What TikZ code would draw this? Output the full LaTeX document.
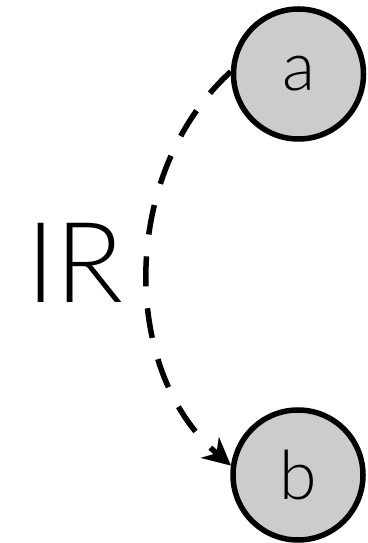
\documentclass[tikz,border=0pt]{standalone}
\usepackage{fontspec}
\setmainfont{Lato}[UprightFont=* Light]
\usetikzlibrary{arrows.meta}
\definecolor{nodegray}{HTML}{CCCCCC}
\tikzset{
  statenode/.style={circle, draw=black, line width=5.5pt, fill=nodegray, minimum size=130pt, inner sep=0pt, font=\fontsize{68}{72}\selectfont},
  irlink/.style={line width=5.5pt, dash pattern=on 30pt off 22pt, -{Stealth[length=28pt,width=28pt,inset=9pt,line width=0pt]}}
}
\begin{document}
\begin{tikzpicture}[x=1pt,y=1pt]
\useasboundingbox (0,0) rectangle (367,543);
\node[statenode] (a) at (298.5,469) {\raisebox{-6pt}{a}};
\node[statenode] (b) at (298,68) {b};
\node[font=\fontsize{112}{120}\selectfont, inner sep=0pt] (ir) at (75,280) {IR};
\draw[irlink] (a.178) .. controls (120,370) and (120,173) .. (b.172);
\end{tikzpicture}
\end{document}
